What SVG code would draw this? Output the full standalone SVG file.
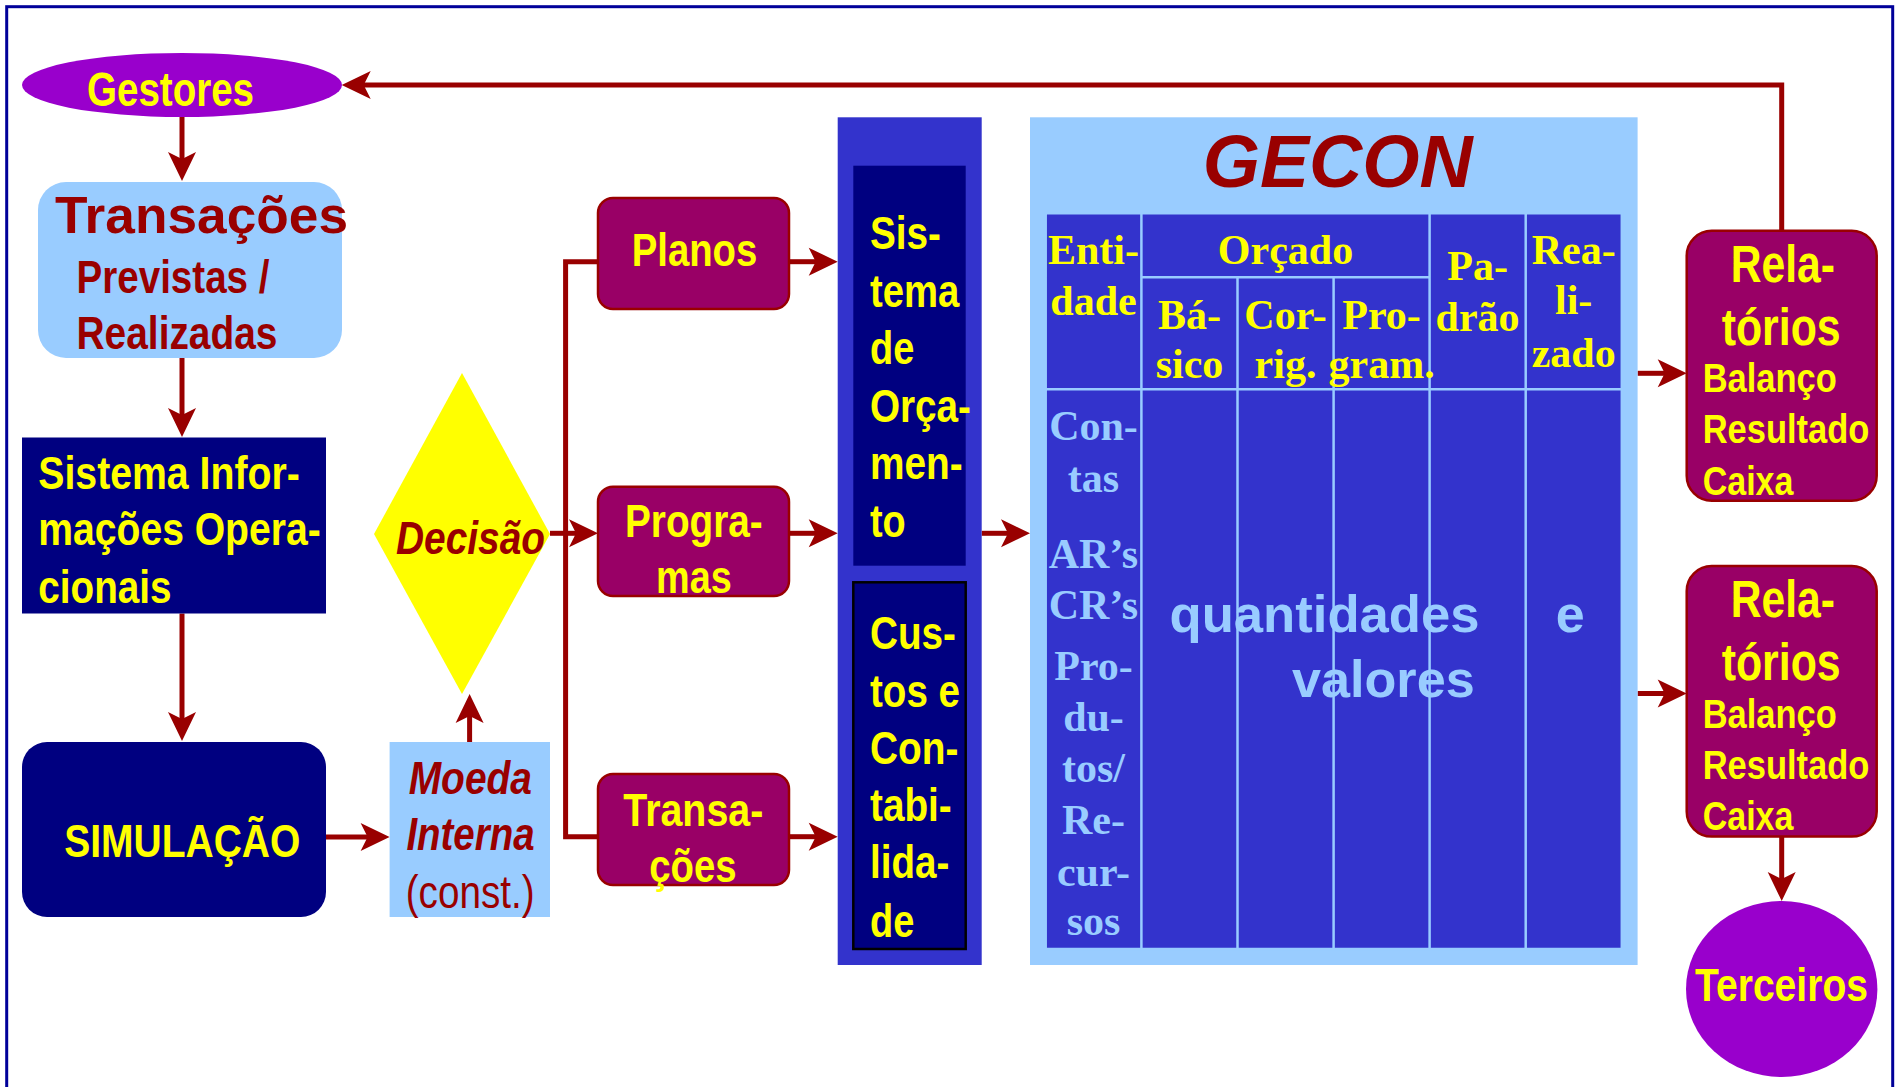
<svg xmlns="http://www.w3.org/2000/svg" width="1899" height="1087" viewBox="0 0 1899 1087">
<style>
.n{font-family:"Liberation Sans Narrow","Liberation Sans",Arial,sans-serif;font-weight:bold}
.w{font-family:"Liberation Sans",Arial,sans-serif;font-weight:bold}
.i{font-style:italic}
.y{fill:#FFFF00}
.r{fill:#990000}
.lb{fill:#99CCFF}
.s{font-family:"Liberation Serif","Times New Roman",serif;font-weight:bold;font-size:42px;text-anchor:middle}
.conn{stroke:#990000;stroke-width:5;fill:none}
.arr{marker-end:url(#ah)}
.mag{fill:#990066;stroke:#990000;stroke-width:2.5}
.navy{fill:#000080}
.grid{stroke:#99CCFF;stroke-width:2.5;fill:none}
</style>
<defs>
<marker id="ah" markerUnits="userSpaceOnUse" markerWidth="30" markerHeight="28" refX="8" refY="14" orient="auto" overflow="visible">
<path d="M0,0 L29,14 L0,28 L7,14 Z" fill="#990000"/>
</marker>
</defs>
<rect x="0" y="0" width="1899" height="1087" fill="#FFFFFF"/>
<rect x="6.7" y="6.7" width="1886" height="1100" fill="none" stroke="#000099" stroke-width="3"/>

<g id="connectors">
<path class="conn arr" d="M182,117 V160"/>
<path class="conn arr" d="M182,358 V416"/>
<path class="conn arr" d="M182,613.5 V720"/>
<path class="conn arr" d="M326,837 H368.6"/>
<path class="conn arr" d="M469.6,742 V715"/>
<path class="conn arr" d="M550,533.3 H577"/>
<path class="conn" d="M598,261.7 H565.6 V836.7 H598"/>
<path class="conn arr" d="M789,261.7 H816.7"/>
<path class="conn arr" d="M789,533.3 H816.7"/>
<path class="conn arr" d="M789,836.7 H816.7"/>
<path class="conn arr" d="M981.7,533.3 H1009"/>
<path class="conn arr" d="M1637.6,373.3 H1665.7"/>
<path class="conn arr" d="M1637.6,693.5 H1665.7"/>
<path class="conn arr" d="M1781.7,230.7 V85 H362.7"/>
<path class="conn arr" d="M1781.7,836.6 V880"/>
</g>

<g id="gestores">
<ellipse cx="182" cy="85" rx="160" ry="32" fill="#9900CC"/>
<text class="n y" x="87" y="106" font-size="48" textLength="167" lengthAdjust="spacingAndGlyphs">Gestores</text>
</g>

<g id="transacoes-previstas">
<rect x="38" y="182" width="304" height="176" rx="28" fill="#99CCFF"/>
<text class="w r" x="55" y="233" font-size="52" textLength="293" lengthAdjust="spacingAndGlyphs">Transações</text>
<text class="n r" x="76.5" y="293" font-size="46" textLength="193" lengthAdjust="spacingAndGlyphs">Previstas /</text>
<text class="n r" x="76.5" y="349" font-size="46" textLength="201" lengthAdjust="spacingAndGlyphs">Realizadas</text>
</g>

<g id="sistema-info">
<rect x="22" y="437.5" width="304" height="176" class="navy"/>
<text class="n y" x="38.3" y="488.6" font-size="46" textLength="261.4" lengthAdjust="spacingAndGlyphs">Sistema Infor-</text>
<text class="n y" x="38.3" y="545.2" font-size="46" textLength="282.4" lengthAdjust="spacingAndGlyphs">mações Opera-</text>
<text class="n y" x="38.3" y="603" font-size="46" textLength="133.2" lengthAdjust="spacingAndGlyphs">cionais</text>
</g>

<g id="simulacao">
<rect x="22" y="742" width="304" height="175" rx="25" class="navy"/>
<text class="n y" x="64.3" y="857.3" font-size="46" textLength="236" lengthAdjust="spacingAndGlyphs">SIMULAÇÃO</text>
</g>

<g id="moeda">
<rect x="389.6" y="742" width="160.4" height="175" fill="#99CCFF"/>
<text class="n i r" x="408.7" y="793.6" font-size="46" textLength="123.3" lengthAdjust="spacingAndGlyphs">Moeda</text>
<text class="n i r" x="406.4" y="850" font-size="46" textLength="128.2" lengthAdjust="spacingAndGlyphs">Interna</text>
<text class="r" x="405.7" y="907.6" font-size="46" font-family="'Liberation Sans Narrow','Liberation Sans',Arial,sans-serif" textLength="129" lengthAdjust="spacingAndGlyphs">(const.)</text>
</g>

<g id="decisao">
<polygon points="462,373 550,534 462,694 374,534" fill="#FFFF00"/>
<text class="n i r" x="396" y="553.6" font-size="46" textLength="149" lengthAdjust="spacingAndGlyphs">Decisão</text>
</g>

<g id="planos">
<rect x="598" y="198" width="191" height="111" rx="15" class="mag"/>
<text class="n y" x="631.7" y="265.7" font-size="47" textLength="125.6" lengthAdjust="spacingAndGlyphs">Planos</text>
</g>

<g id="programas">
<rect x="598" y="486.7" width="191" height="109.3" rx="15" class="mag"/>
<text class="n y" x="625" y="536.7" font-size="47" textLength="137.7" lengthAdjust="spacingAndGlyphs">Progra-</text>
<text class="n y" x="656" y="593" font-size="47" textLength="75.7" lengthAdjust="spacingAndGlyphs">mas</text>
</g>

<g id="transacoes">
<rect x="598" y="774" width="191" height="111" rx="15" class="mag"/>
<text class="n y" x="623.3" y="825.7" font-size="47" textLength="140" lengthAdjust="spacingAndGlyphs">Transa-</text>
<text class="n y" x="649.3" y="881.7" font-size="47" textLength="87.4" lengthAdjust="spacingAndGlyphs">ções</text>
</g>

<g id="coluna-sistemas">
<rect x="837.7" y="117.3" width="144" height="847.7" fill="#3333CC"/>
</g>

<g id="sistema-orcamento">
<rect x="853.3" y="165.7" width="112.4" height="400" class="navy"/>
<text class="n y" x="870" y="249" font-size="47" textLength="71" lengthAdjust="spacingAndGlyphs">Sis-</text>
<text class="n y" x="870" y="306.7" font-size="47" textLength="89.3" lengthAdjust="spacingAndGlyphs">tema</text>
<text class="n y" x="870" y="364" font-size="47" textLength="44.3" lengthAdjust="spacingAndGlyphs">de</text>
<text class="n y" x="870" y="421.7" font-size="47" textLength="101" lengthAdjust="spacingAndGlyphs">Orça-</text>
<text class="n y" x="870" y="479.3" font-size="47" textLength="92.7" lengthAdjust="spacingAndGlyphs">men-</text>
<text class="n y" x="870" y="536.7" font-size="47" textLength="35.7" lengthAdjust="spacingAndGlyphs">to</text>
</g>

<g id="custos-contabilidade">
<rect x="853.3" y="582.3" width="112.4" height="366.7" class="navy" stroke="#000000" stroke-width="2.5"/>
<text class="n y" x="870" y="649.3" font-size="47" textLength="86" lengthAdjust="spacingAndGlyphs">Cus-</text>
<text class="n y" x="870" y="706.7" font-size="47" textLength="90" lengthAdjust="spacingAndGlyphs">tos e</text>
<text class="n y" x="870" y="764" font-size="47" textLength="88.3" lengthAdjust="spacingAndGlyphs">Con-</text>
<text class="n y" x="870" y="821" font-size="47" textLength="81.7" lengthAdjust="spacingAndGlyphs">tabi-</text>
<text class="n y" x="870" y="878.3" font-size="47" textLength="79.3" lengthAdjust="spacingAndGlyphs">lida-</text>
<text class="n y" x="870" y="936.7" font-size="47" textLength="44.3" lengthAdjust="spacingAndGlyphs">de</text>
</g>

<g id="gecon">
<rect x="1030" y="117.3" width="607.6" height="847.7" fill="#99CCFF"/>
<text class="w i r" x="1202.7" y="187.3" font-size="75" textLength="270" lengthAdjust="spacingAndGlyphs">GECON</text>
<rect x="1045.7" y="213.3" width="576.1" height="735.7" fill="#3333CC"/>
<path class="grid" d="M1045.7,213.3 H1621.8 V949 H1045.7 Z M1141.4,213.3 V949 M1429.6,213.3 V949 M1525.7,213.3 V949 M1237.5,277.3 V949 M1333.6,277.3 V949 M1141.4,277.3 H1429.6 M1045.7,389.3 H1621.8"/>
<g class="y">
<text class="s" x="1093.5" y="264.3">Enti-</text>
<text class="s" x="1093.5" y="315">dade</text>
<text class="s" x="1285.5" y="264.3">Orçado</text>
<text class="s" x="1189.5" y="329">Bá-</text>
<text class="s" x="1189.5" y="378.3">sico</text>
<text class="s" x="1285.5" y="329">Cor-</text>
<text class="s" x="1285.5" y="378.3">rig.</text>
<text class="s" x="1381.6" y="329">Pro-</text>
<text class="s" x="1381.6" y="378.3">gram.</text>
<text class="s" x="1477.6" y="280">Pa-</text>
<text class="s" x="1477.6" y="331">drão</text>
<text class="s" x="1573.7" y="264.3">Rea-</text>
<text class="s" x="1573.7" y="314.3">li-</text>
<text class="s" x="1573.7" y="366.7">zado</text>
</g>
<g class="lb">
<text class="s" x="1093.5" y="440.4">Con-</text>
<text class="s" x="1093.5" y="491.7">tas</text>
<text class="s" x="1093.5" y="568.1">AR’s</text>
<text class="s" x="1093.5" y="619">CR’s</text>
<text class="s" x="1093.5" y="680.2">Pro-</text>
<text class="s" x="1093.5" y="731">du-</text>
<text class="s" x="1093.5" y="782.3">tos/</text>
<text class="s" x="1093.5" y="834.3">Re-</text>
<text class="s" x="1093.5" y="885.5">cur-</text>
<text class="s" x="1093.5" y="935.3">sos</text>
<text class="w" x="1169.5" y="632.4" font-size="52" textLength="310" lengthAdjust="spacingAndGlyphs">quantidades</text>
<text class="w" x="1292" y="696.6" font-size="52" textLength="182.7" lengthAdjust="spacingAndGlyphs">valores</text>
<text class="w" x="1555.8" y="632.4" font-size="52">e</text>
</g>
</g>

<g id="relatorios-1">
<rect x="1686.7" y="230.7" width="190" height="270" rx="25" class="mag"/>
<text class="n y" x="1730.7" y="281.7" font-size="51" textLength="104.3" lengthAdjust="spacingAndGlyphs">Rela-</text>
<text class="n y" x="1721.7" y="345" font-size="51" textLength="119" lengthAdjust="spacingAndGlyphs">tórios</text>
<text class="n y" x="1702.7" y="391.7" font-size="40" textLength="134" lengthAdjust="spacingAndGlyphs">Balanço</text>
<text class="n y" x="1702.7" y="443.3" font-size="40" textLength="166.7" lengthAdjust="spacingAndGlyphs">Resultado</text>
<text class="n y" x="1702.7" y="495" font-size="40" textLength="90.7" lengthAdjust="spacingAndGlyphs">Caixa</text>
</g>

<g id="relatorios-2">
<rect x="1686.7" y="566" width="190" height="270.6" rx="25" class="mag"/>
<text class="n y" x="1730.7" y="617.3" font-size="51" textLength="104.3" lengthAdjust="spacingAndGlyphs">Rela-</text>
<text class="n y" x="1721.7" y="680.3" font-size="51" textLength="119" lengthAdjust="spacingAndGlyphs">tórios</text>
<text class="n y" x="1702.7" y="727.8" font-size="40" textLength="134" lengthAdjust="spacingAndGlyphs">Balanço</text>
<text class="n y" x="1702.7" y="778.8" font-size="40" textLength="166.7" lengthAdjust="spacingAndGlyphs">Resultado</text>
<text class="n y" x="1702.7" y="830.3" font-size="40" textLength="90.7" lengthAdjust="spacingAndGlyphs">Caixa</text>
</g>

<g id="terceiros">
<ellipse cx="1781.7" cy="989" rx="95.7" ry="88" fill="#9900CC"/>
<text class="n y" x="1695" y="1001.3" font-size="46" textLength="173" lengthAdjust="spacingAndGlyphs">Terceiros</text>
</g>
</svg>
